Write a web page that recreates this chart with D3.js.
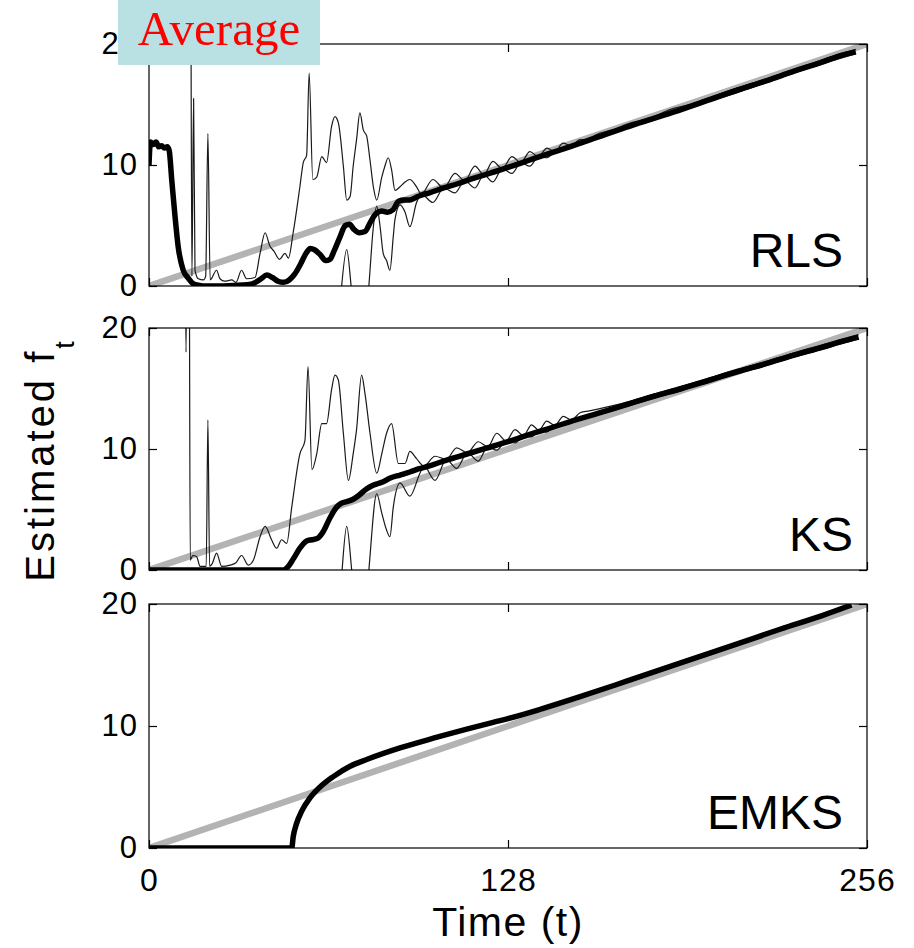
<!DOCTYPE html>
<html>
<head>
<meta charset="utf-8">
<script src="https://cdn.jsdelivr.net/npm/d3@7/dist/d3.min.js"></script>
<style>
  html, body { margin: 0; padding: 0; background: #ffffff; }
  svg { display: block; }
  text { font-family: "Liberation Sans", Arial, sans-serif; fill: #000; }
</style>
</head>
<body>
<svg id="chart" width="914" height="948"></svg>
<script>
// ---- axis ranges and tick labels ----
const timeDomain = [0, 256];
const valueDomain = [0, 20];
const timeTicks = [0, 128, 256];
const valueTicks = [0, 10, 20];
const panelNames = ["RLS", "KS", "EMKS"];

// ---- true frequency (grey reference line) ----
const trueT = [0, 256];
const trueF = [0, 20];

// ---- RLS: average estimate and the two spread curves ----
const rlsMeanT = [0, 0.5, 1.5, 2.5, 3.5, 4.5, 5.5, 6.5, 7.2, 8.1, 9.3, 10.4, 12.2, 14, 15.7, 18, 20, 25, 30, 35, 38, 40, 42, 44, 46, 48, 50, 52, 54, 56, 57.5, 59, 61, 63, 64.5, 66, 68, 70, 71.5, 73, 75, 77, 79, 81, 83, 85, 87, 89, 91, 93, 95, 97, 100, 105, 110, 115, 120, 128, 135, 142, 150, 160, 170, 180, 190, 200, 210, 220, 230, 240, 246, 252];
const rlsMean  = [10.0, 11.9, 11.7, 11.9, 11.5, 11.6, 11.4, 11.5, 11.2, 8.8, 5.7, 3.25, 1.3, 0.65, 0.2, 0.05, 0, 0, 0.05, 0.1, 0.3, 0.6, 0.9, 0.7, 0.4, 0.3, 0.5, 1.0, 1.8, 2.7, 3.1, 3.0, 2.6, 2.1, 2.2, 2.9, 4.0, 5.0, 5.1, 4.7, 4.4, 4.5, 5.3, 6.0, 6.2, 6.1, 6.3, 7.0, 7.1, 7.1, 7.3, 7.5, 7.7, 8.1, 8.45, 8.85, 9.2, 9.8, 10.35, 10.9, 11.5, 12.3, 13.1, 13.85, 14.6, 15.4, 16.2, 16.95, 17.75, 18.5, 19.0, 19.35];

const rlsUpperT = [0, 14.8, 15.3, 15.9, 16.4, 17.6, 19.4, 20.2, 21.0, 21.8, 24.1, 25.3, 27, 29.5, 31, 33, 34.8, 37.8, 39.6, 41.4, 43.1, 44.5, 46.5, 48.5, 49.7, 51.4, 53.8, 55, 56.2, 57.1, 58.4, 59.8, 61.6, 63.3, 65.1, 66.3, 67.5, 69.3, 70.5, 71.7, 72.8, 74, 75.2, 76.4, 77.6, 78.8, 80, 81.2, 83, 84.1, 85.3, 86.5, 87.7, 89.5, 91.3, 93, 95.4, 97.1, 101.2, 105.1, 109.1, 112.6, 116.2, 119.4, 122.6, 126, 129.4, 132.6, 135.8, 138.8, 141.9, 144.7, 147.6, 150.6, 153.7, 156.5, 159.4, 165, 172, 180, 186, 192, 200, 210, 220, 230, 240, 252];
const rlsUpper  = [30, 30, 0.8, 15.5, 1.3, 0.6, 0.5, 0.8, 12.6, 0.5, 1.3, 0.6, 0.4, 0.5, 0.3, 1.3, 0.6, 0.7, 2.7, 4.4, 3.3, 2.9, 2.2, 2.7, 2.3, 4.4, 8.2, 10.2, 10.8, 17.6, 8.8, 9.0, 10.7, 10.2, 13.2, 14.0, 13.5, 9.9, 7.1, 7.4, 9.9, 12.1, 14.3, 12.9, 12.4, 10.4, 8.2, 7.1, 9.0, 9.9, 10.6, 9.6, 7.9, 8.2, 8.6, 8.8, 8.2, 7.6, 8.8, 8.1, 9.3, 8.7, 9.9, 9.2, 10.3, 9.7, 10.7, 10.2, 11.1, 10.7, 11.4, 11.1, 11.8, 11.6, 12.1, 12.1, 12.5, 12.9, 13.5, 14.0, 14.6, 14.95, 15.6, 16.4, 17.1, 17.9, 18.7, 19.55];

const rlsLowerT = [0, 14.8, 16, 20, 30, 40, 50, 55, 60, 66, 68.5, 70.5, 72.3, 75, 78.2, 80, 81.2, 82.4, 83.5, 84.7, 85.9, 87.1, 87.7, 89.5, 91.3, 93, 95.4, 97.1, 101.2, 105.1, 109.1, 112.6, 116.2, 119.4, 122.6, 126, 129.4, 132.6, 135.8, 138.8, 141.9, 144.7, 147.6, 150.6, 153.7, 156.5, 159.4, 165, 172, 180, 186, 192, 200, 210, 220, 230, 240, 252];
const rlsLower  = [-30, -30, -2, -1, -0.5, -3, -2, -8, -6, -10, -0.5, 3.0, -0.5, -5, -0.5, 4.9, 6.6, 4.9, 2.7, 2.1, 1.3, 4.1, 5.5, 6.7, 6.1, 4.9, 6.9, 7.6, 6.9, 8.1, 7.7, 8.7, 8.1, 9.2, 8.6, 9.7, 9.3, 10.2, 9.9, 10.7, 10.6, 11.1, 11.2, 11.6, 11.8, 12.1, 12.2, 12.6, 13.2, 13.7, 14.3, 14.7, 15.3, 16.0, 16.8, 17.6, 18.35, 19.2];

// ---- KS: average estimate and the two spread curves ----
const ksMeanT = [0, 47.9, 50, 51.4, 53.8, 56.2, 58, 60, 62.2, 64.5, 66.9, 68.5, 70.5, 72.8, 75, 77, 79, 81, 83.5, 86, 89.5, 93, 96, 100, 105, 110, 120, 128, 135, 142, 150, 160, 170, 180, 190, 200, 210, 220, 230, 240, 248, 253];
const ksMean  = [0, 0, 0.4, 0.9, 1.8, 2.4, 2.5, 2.6, 3.2, 4.3, 5.2, 5.5, 5.65, 5.85, 6.2, 6.6, 6.9, 7.1, 7.3, 7.6, 7.85, 8.1, 8.35, 8.6, 9.0, 9.35, 10.05, 10.6, 11.15, 11.65, 12.25, 12.95, 13.65, 14.35, 15.0, 15.7, 16.4, 17.05, 17.75, 18.4, 18.95, 19.25];

const ksUpperT = [0, 12.8, 13.2, 13.6, 14.3, 14.7, 15.6, 17, 18.2, 20.4, 21.0, 21.6, 22.5, 24.1, 25.9, 28.9, 31, 33, 35.4, 37.2, 39.6, 41.4, 43.7, 45.5, 47.3, 49.1, 50.9, 53.8, 55.6, 56.7, 58.1, 59.8, 61.6, 63.3, 65.1, 66.3, 67.5, 69.3, 71.1, 72.8, 74, 75.8, 77, 78.8, 81.2, 83, 84.7, 86.5, 88.9, 91.3, 93, 95.4, 98, 102, 106, 109.7, 113.5, 117.4, 120.8, 124, 127.3, 130.5, 133.5, 136.4, 139, 141.8, 144.7, 147.7, 150.7, 153.7, 157, 160, 170, 180, 190, 200, 210, 220, 230, 240, 253];
const ksUpper  = [30, 30, 18, 30, 30, 0.8, 1.2, 1.1, 0.3, 0.3, 12.4, 0.3, 0.5, 1.4, 0.3, 0.4, 0.6, 1.2, 0.4, 0.8, 2.75, 3.6, 2.5, 1.8, 2.5, 2.2, 5.2, 9.6, 10.7, 16.8, 8.3, 9.6, 12.1, 12.1, 14.9, 16.1, 15.7, 11.3, 7.4, 9.6, 11.6, 16.1, 14.6, 11.3, 8.0, 9.6, 11.3, 12.1, 8.8, 8.8, 9.8, 9.2, 8.6, 9.4, 9.15, 10.1, 9.7, 10.6, 10.2, 11.3, 10.65, 11.6, 11.1, 12.0, 11.55, 12.3, 11.95, 12.7, 12.4, 13.0, 13.15, 13.3, 13.85, 14.55, 15.2, 15.9, 16.6, 17.25, 17.95, 18.6, 19.45];

const ksLowerT = [0, 14.5, 16, 30, 40, 48, 55, 60, 66, 68.7, 70.5, 72.5, 76, 78.2, 81.2, 83, 84.7, 85.9, 87.1, 89.5, 93, 96.6, 98, 102, 106, 109.7, 113.5, 117.4, 120.8, 124, 127.3, 130.5, 133.5, 136.4, 139, 141.8, 144.7, 147.7, 150.7, 153.7, 157, 160, 170, 180, 190, 200, 210, 220, 230, 240, 253];
const ksLower  = [-30, -30, -1, -0.5, -3, -2, -8, -7, -12, -0.5, 3.6, -0.5, -6, -0.5, 6.3, 4.7, 3.3, 2.75, 5.2, 7.2, 6.1, 8.0, 8.6, 7.4, 9.15, 8.4, 9.7, 9.0, 10.2, 9.9, 10.65, 10.5, 11.1, 11.0, 11.55, 11.4, 11.95, 12.0, 12.4, 12.4, 12.75, 12.85, 13.5, 14.2, 14.85, 15.55, 16.25, 16.9, 17.6, 18.25, 19.1];

// ---- EMKS: average estimate ----
const emksMeanT = [0, 50.9, 51.4, 52.6, 54.4, 57.4, 61, 65.7, 71.7, 77.6, 89.5, 101.4, 113.3, 122.7, 128, 140, 153.7, 170, 189.3, 210, 225, 240, 250.5];
const emksMean  = [0, 0, 0.9, 2.0, 3.0, 4.1, 5.0, 5.85, 6.7, 7.25, 8.2, 9.0, 9.75, 10.3, 10.6, 11.4, 12.4, 13.65, 15.15, 16.75, 17.93, 19.05, 19.92];

// ---- layout ----
const plotLeft = 149, plotRight = 867;
const panelBands = [[44, 286], [328, 570], [604, 848]];

const zip = (ts, vs) => ts.map((t, i) => [t, vs[i]]);

const panels = [
  { spread: [zip(rlsUpperT, rlsUpper), zip(rlsLowerT, rlsLower)], mean: zip(rlsMeanT, rlsMean) },
  { spread: [zip(ksUpperT, ksUpper), zip(ksLowerT, ksLower)],     mean: zip(ksMeanT, ksMean) },
  { spread: [],                                                   mean: zip(emksMeanT, emksMean) }
];

const svg = d3.select("#chart");
const x = d3.scaleLinear().domain(timeDomain).range([plotLeft, plotRight]);
const tickFont = "Liberation Sans, Arial, sans-serif";

panels.forEach((p, i) => {
  const [top, bottom] = panelBands[i];
  const y = d3.scaleLinear().domain(valueDomain).range([bottom, top]);
  const g = svg.append("g");

  const clipId = "clip" + i;
  svg.append("clipPath").attr("id", clipId)
    .append("rect")
    .attr("x", plotLeft).attr("y", top)
    .attr("width", plotRight - plotLeft).attr("height", bottom - top);

  const straight = d3.line().x(d => x(d[0])).y(d => y(d[1]));
  const smooth = d3.line().x(d => x(d[0])).y(d => y(d[1])).curve(d3.curveMonotoneX);
  const plot = g.append("g").attr("clip-path", `url(#${clipId})`);

  // true frequency
  plot.append("path")
    .datum(zip(trueT, trueF))
    .attr("d", straight)
    .attr("fill", "none")
    .attr("stroke", "#b3b3b3")
    .attr("stroke-width", 6.5);

  // spread curves
  p.spread.forEach(s => {
    plot.append("path")
      .datum(s)
      .attr("d", smooth)
      .attr("fill", "none")
      .attr("stroke", "#1a1a1a")
      .attr("stroke-width", 1.2)
      .attr("stroke-linejoin", "round");
  });

  // average estimate
  plot.append("path")
    .datum(p.mean)
    .attr("d", smooth)
    .attr("fill", "none")
    .attr("stroke", "#000")
    .attr("stroke-width", 5.5)
    .attr("stroke-linejoin", "round");

  // frame
  g.append("rect")
    .attr("x", plotLeft).attr("y", top)
    .attr("width", plotRight - plotLeft).attr("height", bottom - top)
    .attr("fill", "none").attr("stroke", "#000").attr("stroke-width", 1.2);

  const styleAxis = a => {
    a.select(".domain").remove();
    a.selectAll(".tick line").attr("stroke", "#000").attr("stroke-width", 1.2);
  };

  g.append("g").attr("transform", `translate(${plotLeft},0)`)
    .call(d3.axisLeft(y).tickValues(valueTicks).tickSize(-8).tickPadding(11).tickFormat(d3.format("d")))
    .call(styleAxis)
    .call(a => a.selectAll("text").style("font-size", "31px").style("font-family", tickFont)
      .style("letter-spacing", "1px").attr("fill", "#000"));

  g.append("g").attr("transform", `translate(${plotRight},0)`)
    .call(d3.axisRight(y).tickValues(valueTicks).tickSize(-8).tickFormat(""))
    .call(styleAxis);

  g.append("g").attr("transform", `translate(0,${top})`)
    .call(d3.axisTop(x).tickValues(timeTicks).tickSize(-8).tickFormat(""))
    .call(styleAxis);

  const bottomAxis = g.append("g").attr("transform", `translate(0,${bottom})`)
    .call(d3.axisBottom(x).tickValues(timeTicks).tickSize(-8).tickPadding(20)
      .tickFormat(i === panels.length - 1 ? d3.format("d") : ""))
    .call(styleAxis);
  bottomAxis.selectAll("text").style("font-size", "32px").style("font-family", tickFont)
    .style("letter-spacing", "1px").attr("fill", "#000");

  // method name
  g.append("text")
    .attr("x", i === 1 ? 853 : 843)
    .attr("y", bottom - 19)
    .attr("text-anchor", "end")
    .style("font-size", "48px")
    .text(panelNames[i]);
});

// axis titles
svg.append("text")
  .attr("x", (plotLeft + plotRight) / 2)
  .attr("y", 936)
  .attr("text-anchor", "middle")
  .style("font-size", "41px")
  .style("letter-spacing", "1.5px")
  .text("Time (t)");

const yTitle = svg.append("text")
  .attr("transform", "translate(54,460) rotate(-90)")
  .attr("text-anchor", "middle")
  .style("font-size", "40px")
  .style("letter-spacing", "3px");
yTitle.append("tspan").text("Estimated f");
yTitle.append("tspan").attr("dy", 20).style("font-size", "27px").text("t");

// caption tag
svg.append("rect")
  .attr("x", 118).attr("y", 0).attr("width", 202).attr("height", 65)
  .attr("fill", "#b9e0e2");
svg.append("text")
  .attr("x", 219).attr("y", 45)
  .attr("text-anchor", "middle")
  .style("font-family", "Liberation Serif, 'Times New Roman', serif")
  .style("font-size", "49px")
  .style("fill", "#ff0000")
  .text("Average");
</script>
</body>
</html>
